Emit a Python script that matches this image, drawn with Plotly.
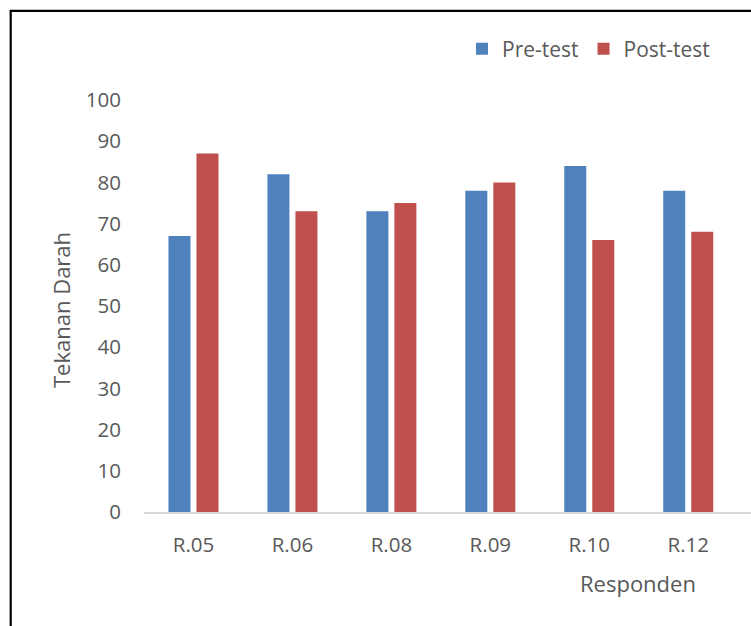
import plotly.graph_objects as go

categories = ["R.05", "R.06", "R.08", "R.09", "R.10", "R.12"]
pre_test = [67, 82, 73, 78, 84, 78]
post_test = [87, 73, 75, 80, 66, 68]
y_ticks = [0, 10, 20, 30, 40, 50, 60, 70, 80, 90, 100]

FONT = "Open Sans"
TXT = "#595959"

W, H = 751, 626
L, R, T, B = 144, 0, 100, 114
pw, ph = W - L - R, H - T - B

def px_x(x):
    return (x - L) / pw

def px_y(y):
    return (H - B - y) / ph

fig = go.Figure()
fig.add_trace(go.Bar(name="Pre-test", x=categories, y=pre_test,
                     marker=dict(color="#4F81BD", line=dict(width=0))))
fig.add_trace(go.Bar(name="Post-test", x=categories, y=post_test,
                     marker=dict(color="#C0504D", line=dict(width=0))))

fig.update_layout(
    width=W, height=H,
    margin=dict(l=L, r=R, t=T, b=B, pad=0),
    paper_bgcolor="white", plot_bgcolor="white",
    barmode="group", bargap=0.434, bargroupgap=0.214,
    font=dict(family=FONT, size=20, color=TXT),
    showlegend=True,
    legend=dict(orientation="h", x=px_x(462), xanchor="left",
                y=px_y(49), yanchor="middle",
                font=dict(family=FONT, size=21, color=TXT),
                itemwidth=30, traceorder="normal", bgcolor="rgba(0,0,0,0)"),
    xaxis=dict(range=[-0.5, (751 - 193.2) / 99.0], showgrid=False,
               showline=True, linecolor="#D9D9D9", linewidth=1.5,
               ticks="", tickfont=dict(family=FONT, size=20.5, color=TXT),
               ticklabelstandoff=14, fixedrange=True),
    yaxis=dict(range=[0, 100], tickvals=y_ticks, showgrid=False,
               showline=False, zeroline=False, ticks="",
               tickfont=dict(family=FONT, size=20.5, color=TXT),
               ticklabelstandoff=22, fixedrange=True),
    annotations=[
        dict(text="Tekanan Darah", xref="paper", yref="paper",
             x=px_x(61), y=px_y(310), textangle=-90, showarrow=False,
             xanchor="center", yanchor="middle",
             font=dict(family=FONT, size=22, color=TXT)),
        dict(text="Responden", xref="paper", yref="paper",
             x=px_x(638), y=px_y(583), showarrow=False,
             xanchor="center", yanchor="middle",
             font=dict(family=FONT, size=22, color=TXT)),
    ],
    shapes=[
        dict(type="path", xref="paper", yref="paper",
             path=f"M {px_x(10.7)},{px_y(640)} L {px_x(10.7)},{px_y(10.9)} L {px_x(760)},{px_y(10.9)}",
             line=dict(color="black", width=2.2)),
    ],
)

fig.write_html("out.html",
               config={"displayModeBar": False},
               post_script="document.body.style.margin='0';document.body.style.overflow='hidden';")
